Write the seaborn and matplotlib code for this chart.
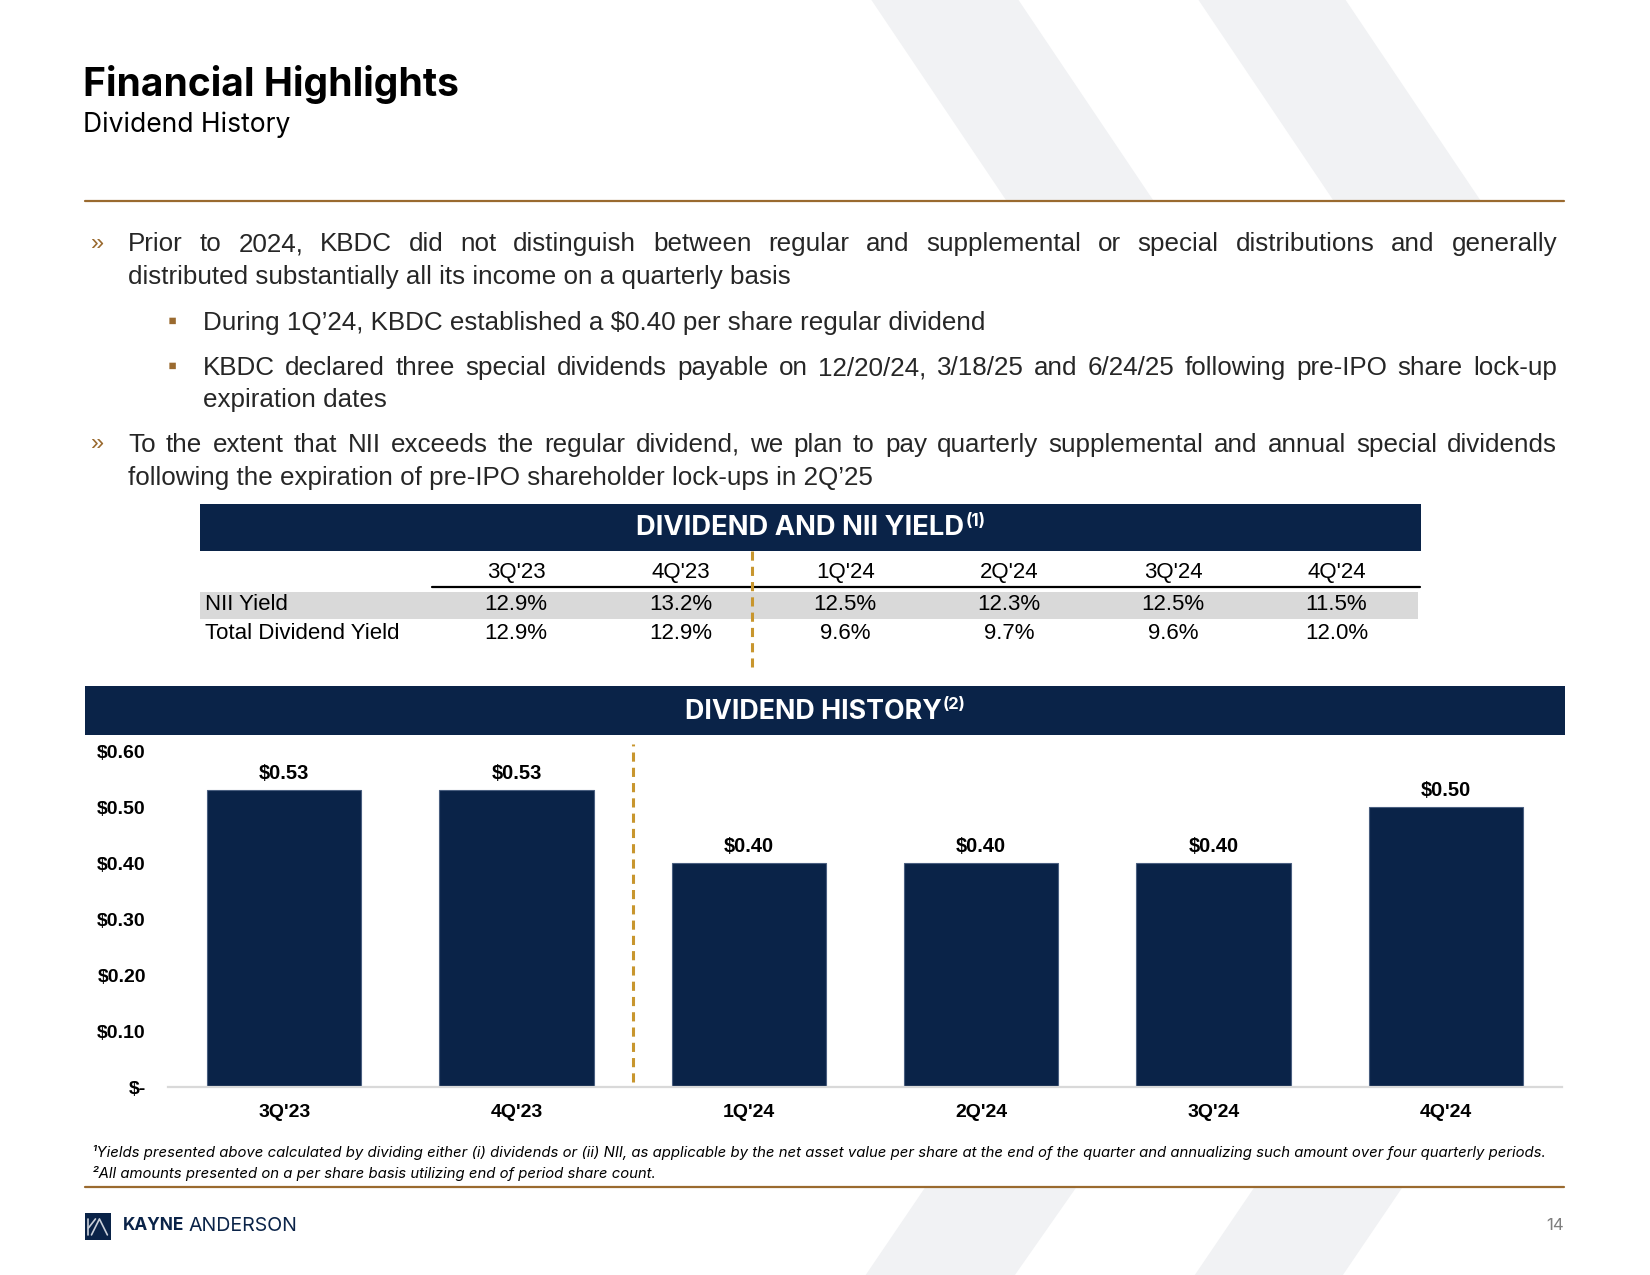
# Dividend history slide: yield table + per-share dividend bar chart
import numpy as np
import pandas as pd
import matplotlib
matplotlib.use('Agg')
import matplotlib.pyplot as plt
import seaborn as sns
from matplotlib.patches import Polygon, Rectangle
from matplotlib.lines import Line2D

# --- Data ---
quarters = ["3Q'23", "4Q'23", "1Q'24", "2Q'24", "3Q'24", "4Q'24"]
dividend_per_share = [0.53, 0.53, 0.40, 0.40, 0.40, 0.50]
nii_yield = [12.9, 13.2, 12.5, 12.3, 12.5, 11.5]
total_dividend_yield = [12.9, 12.9, 9.6, 9.7, 9.6, 12.0]
y_ticks = [0.0, 0.1, 0.2, 0.3, 0.4, 0.5, 0.6]
y_tick_labels = ["$-", "$0.10", "$0.20", "$0.30", "$0.40", "$0.50", "$0.60"]

W, H = 1650, 1275
S = 0.9943   # layout coords below were measured on a slightly larger grid
SY = 0.9975
NAVY = '#0A2348'
GOLD = '#9A6A2F'
DASH_GOLD = '#C8962E'
TEXT = '#262626'
SHAPE = '#F1F2F4'
NARROW = ['Liberation Sans Narrow', 'Liberation Sans', 'DejaVu Sans']
HEAD = ['Inter', 'DejaVu Sans']

sns.set_theme(style='white')
plt.rcParams['font.family'] = ['Liberation Sans', 'DejaVu Sans']

fig = plt.figure(figsize=(16.5, 12.75), dpi=100)
fig.patch.set_facecolor('white')
renderer = fig.canvas.get_renderer()


def fx(x):
    return x * S / W


def fy(y):
    return 1 - y * SY / H


def put(x, y, s, **kw):
    kw.setdefault('va', 'center')
    return fig.text(fx(x), fy(y), s, **kw)


def width_px(t):
    return t.get_window_extent(renderer).width


def fit(x, y, s, target, **kw):
    t = put(x, y, s, fontsize=20, **kw)
    t.set_fontsize(20 * target * S / width_px(t))
    return t


def justified(x0, x1, y, s, size, **kw):
    words = s.split()
    ts = [put(x0, y, w, fontsize=size, **kw) for w in words]
    widths = [width_px(t) for t in ts]
    gap = ((x1 - x0) * S - sum(widths)) / (len(words) - 1)
    x = x0 * S
    for t, w in zip(ts, widths):
        t.set_x(x / W)
        x += w + gap


def hline(x0, x1, y, **kw):
    fig.add_artist(Line2D([fx(x0), fx(x1)], [fy(y), fy(y)], transform=fig.transFigure, **kw))


def box(x0, y0, x1, y1, color):
    fig.add_artist(Rectangle((fx(x0), fy(y1)), (x1 - x0) * S / W, (y1 - y0) * SY / H,
                             transform=fig.transFigure, color=color, lw=0))


def shape(pts):
    fig.add_artist(Polygon([(fx(a), fy(b)) for a, b in pts], closed=True,
                           transform=fig.transFigure, color=SHAPE, lw=0, zorder=0))


# background chevrons
shape([(873, -5), (1021, -5), (1160, 201), (1012, 201)])
shape([(1202, -5), (1350, -5), (1489, 201), (1341, 201)])
shape([(930, 1191), (1082, 1191), (1016, 1285), (866, 1285)])
shape([(1261, 1191), (1410, 1191), (1346, 1285), (1197, 1285)])

# --- Header ---
fit(83, 85, 'Financial Highlights', 379, family=HEAD, weight='bold', color='black')
fit(83, 125, 'Dividend History', 208, family=HEAD, color='black')
hline(85, 1573, 202, color=GOLD, lw=1.6)

# --- Bullets ---
probe = put(0, 0, 'During 1Q\u201924, KBDC established a $0.40 per share regular dividend',
            fontsize=20, family=NARROW)
bsize = 20 * 785 * S / width_px(probe)
probe.remove()

bkw = dict(family=NARROW, color=TEXT)
put(92, 244, '\u00bb', fontsize=bsize * 0.9, color=GOLD)
justified(129, 1566, 245, 'Prior to 2024, KBDC did not distinguish between regular and supplemental '
          'or special distributions and generally', bsize, **bkw)
put(129, 278, 'distributed substantially all its income on a quarterly basis', fontsize=bsize, **bkw)
put(169, 323, '\u25aa', fontsize=bsize * 1.0, color=GOLD)
put(204, 324, 'During 1Q\u201924, KBDC established a $0.40 per share regular dividend', fontsize=bsize, **bkw)
put(169, 368, '\u25aa', fontsize=bsize * 1.0, color=GOLD)
justified(204, 1566, 369, 'KBDC declared three special dividends payable on 12/20/24, 3/18/25 and '
          '6/24/25 following pre-IPO share lock-up', bsize, **bkw)
put(204, 401, 'expiration dates', fontsize=bsize, **bkw)
put(92, 445, '\u00bb', fontsize=bsize * 0.9, color=GOLD)
justified(129, 1566, 446, 'To the extent that NII exceeds the regular dividend, we plan to pay quarterly '
          'supplemental and annual special dividends', bsize, **bkw)
put(129, 479, 'following the expiration of pre-IPO shareholder lock-ups in 2Q\u201925', fontsize=bsize, **bkw)


def band_title(x0, x1, y0, y1, main, sup, target):
    box(x0, y0, x1, y1, NAVY)
    yc = (y0 + y1) / 2
    t = fit(0, yc + 1, main, target, family=HEAD, weight='bold', color='white')
    s = put(0, yc - 6, sup, fontsize=t.get_fontsize() * 0.62, family=HEAD, weight='bold', color='white')
    wt, ws = width_px(t), width_px(s)
    start = (x0 + x1) / 2 * S - (wt + ws) / 2
    t.set_x(start / W)
    s.set_x((start + wt + 1) / W)


# --- Yield table ---
band_title(201, 1429, 505, 552, 'DIVIDEND AND NII YIELD', '(1)', 332)
col_x = [519, 685, 850, 1015, 1180, 1344]
probe = put(0, 0, 'Total Dividend Yield', fontsize=20, family=NARROW)
tsize = 20 * 195 * S / width_px(probe)
probe.remove()
box(201, 593, 1426, 621, '#D9D9D9')
hline(434, 1428, 588, color='black', lw=1.6)
tkw = dict(family=NARROW, color='black', fontsize=tsize)
for x, q, a, b in zip(col_x, quarters, nii_yield, total_dividend_yield):
    put(x, 574, q, ha='center', **tkw)
    put(x, 606, f'{a:.1f}%', ha='center', **tkw)
    put(x, 635, f'{b:.1f}%', ha='center', **tkw)
put(206, 606, 'NII Yield', **tkw)
put(206, 635, 'Total Dividend Yield', **tkw)
fig.add_artist(Line2D([fx(756), fx(756)], [fy(552), fy(669)], transform=fig.transFigure,
                      color=DASH_GOLD, lw=2.2, ls=(0, (3, 2))))

# --- Dividend history chart ---
band_title(85, 1574, 688, 737, 'DIVIDEND HISTORY', '(2)', 259)
ax = fig.add_axes([fx(169), fy(1090), (1571 - 169) * S / W, (1090 - 753) * SY / H])
df = pd.DataFrame({'quarter': quarters, 'dividend': dividend_per_share})
sns.barplot(data=df, x='quarter', y='dividend', color=NAVY, saturation=1, width=0.665,
            edgecolor='#4A5F80', linewidth=0.8, ax=ax)
ax.set_xlim(-0.5, 5.5)
ax.set_ylim(0, 0.6)
ax.set_xlabel('')
ax.set_ylabel('')
ax.set_facecolor('none')
for sp in ['top', 'right', 'left']:
    ax.spines[sp].set_visible(False)
ax.spines['bottom'].set_color('#D9D9D9')
ax.spines['bottom'].set_linewidth(1.6)
ax.set_yticks(y_ticks, y_tick_labels)
ax.tick_params(axis='y', length=0, pad=16, labelsize=14)
ax.tick_params(axis='x', length=0, pad=12, labelsize=14)
for lab in ax.get_xticklabels() + ax.get_yticklabels():
    lab.set_fontweight('bold')
    lab.set_color('black')
ax.bar_label(ax.containers[0], labels=[f'${v:.2f}' for v in dividend_per_share],
             padding=5.5, fontsize=14.5, fontweight='bold', color='black')
ax.axvline(1.5, ymin=0.015, ymax=1.02, color=DASH_GOLD, lw=2.2, ls=(0, (3, 2)), clip_on=False)

# --- Footnotes ---
f1 = fit(93, 1155, '\u00b9Yields presented above calculated by dividing either (i) dividends or (ii) NII, '
         'as applicable by the net asset value per share at the end of the quarter and annualizing such '
         'amount over four quarterly periods.', 1462, family=HEAD, style='italic', color='black')
put(93, 1176, '\u00b2All amounts presented on a per share basis utilizing end of period share count.',
    fontsize=f1.get_fontsize(), family=HEAD, style='italic', color='black')
hline(85, 1573, 1190, color=GOLD, lw=1.6)

# --- Logo and page number ---
box(85, 1216, 112, 1243, NAVY)
lk = dict(transform=fig.transFigure, color='#C9CFD9', lw=1.2)
fig.add_artist(Line2D([fx(89), fx(89)], [fy(1222), fy(1238)], **lk))
fig.add_artist(Line2D([fx(89), fx(96)], [fy(1231), fy(1222)], **lk))
fig.add_artist(Line2D([fx(92), fx(100), fx(108)], [fy(1238), fy(1222), fy(1238)], **lk))
k = fit(124, 1229, 'KAYNE', 62, family=HEAD, weight='bold', color=NAVY)
fit(190, 1229, 'ANDERSON', 110, family=HEAD, color=NAVY)
put(1573, 1229, '14', ha='right', fontsize=12, family=HEAD, color='#7F7F7F')

fig.savefig('out.png', dpi=100)
